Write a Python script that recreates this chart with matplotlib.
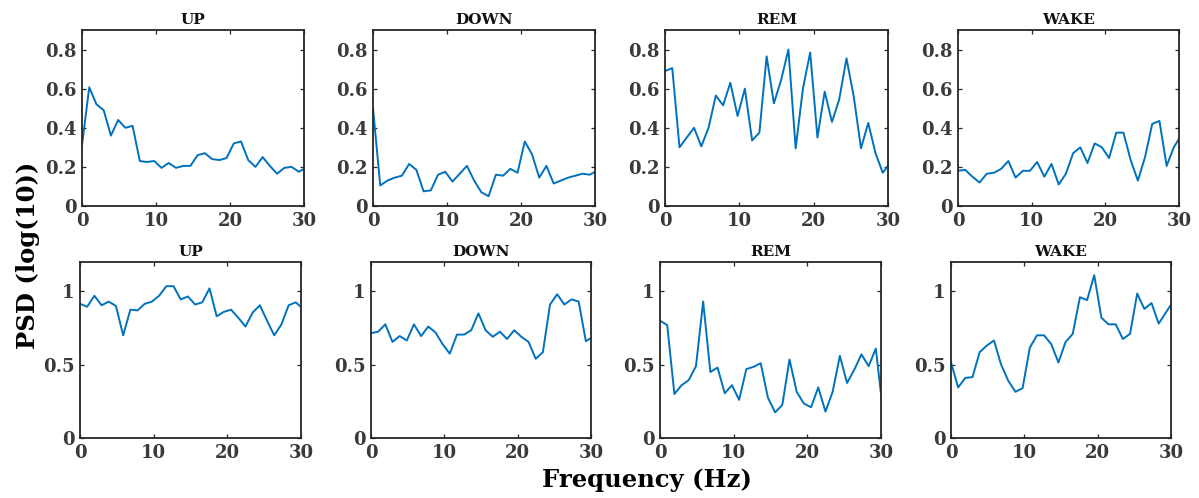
import numpy as np
import matplotlib
matplotlib.use("Agg")
import matplotlib.pyplot as plt

# frequency bins (~0.977 Hz spacing), clipped at 30 Hz by the axis limit
freq = np.arange(32) * 1000.0 / 1024.0

stages = ["UP", "DOWN", "REM", "WAKE"]

# top row
up_top = [0.31, 0.607, 0.52, 0.49, 0.36, 0.44, 0.40, 0.41, 0.23, 0.225, 0.23, 0.195,
          0.22, 0.195, 0.205, 0.205, 0.26, 0.27, 0.24, 0.235, 0.245, 0.32, 0.33, 0.235,
          0.20, 0.25, 0.205, 0.165, 0.195, 0.20, 0.175, 0.195]
down_top = [0.50, 0.105, 0.13, 0.145, 0.155, 0.215, 0.185, 0.075, 0.08, 0.16, 0.175, 0.125,
            0.165, 0.205, 0.13, 0.07, 0.05, 0.16, 0.155, 0.19, 0.17, 0.33, 0.265, 0.145,
            0.205, 0.115, 0.13, 0.145, 0.155, 0.165, 0.16, 0.18]
rem_top = [0.69, 0.705, 0.30, 0.35, 0.40, 0.305, 0.40, 0.565, 0.515, 0.63, 0.46, 0.60,
           0.335, 0.375, 0.765, 0.525, 0.645, 0.80, 0.295, 0.60, 0.785, 0.35, 0.585, 0.43,
           0.545, 0.755, 0.56, 0.295, 0.425, 0.27, 0.17, 0.22]
wake_top = [0.18, 0.185, 0.15, 0.12, 0.165, 0.17, 0.19, 0.23, 0.145, 0.18, 0.18, 0.225,
            0.15, 0.215, 0.11, 0.165, 0.27, 0.30, 0.22, 0.32, 0.30, 0.245, 0.375, 0.375,
            0.235, 0.13, 0.25, 0.42, 0.435, 0.205, 0.30, 0.36]

# bottom row
up_bot = [0.915, 0.895, 0.97, 0.905, 0.93, 0.90, 0.70, 0.875, 0.87, 0.915, 0.93, 0.97,
          1.035, 1.035, 0.945, 0.965, 0.91, 0.925, 1.02, 0.83, 0.86, 0.875, 0.82, 0.76,
          0.855, 0.905, 0.80, 0.70, 0.775, 0.905, 0.925, 0.88]
down_bot = [0.715, 0.725, 0.775, 0.655, 0.695, 0.665, 0.775, 0.695, 0.76, 0.72, 0.64, 0.575,
            0.705, 0.705, 0.735, 0.85, 0.735, 0.69, 0.725, 0.675, 0.735, 0.69, 0.655, 0.54,
            0.585, 0.91, 0.98, 0.91, 0.945, 0.93, 0.66, 0.69]
rem_bot = [0.80, 0.77, 0.30, 0.36, 0.395, 0.49, 0.93, 0.45, 0.48, 0.305, 0.36, 0.26,
           0.47, 0.485, 0.51, 0.275, 0.175, 0.225, 0.535, 0.315, 0.235, 0.21, 0.345, 0.18,
           0.315, 0.56, 0.375, 0.465, 0.57, 0.49, 0.61, 0.18]
wake_bot = [0.515, 0.345, 0.41, 0.415, 0.585, 0.63, 0.665, 0.50, 0.39, 0.315, 0.34, 0.615,
            0.70, 0.70, 0.64, 0.515, 0.655, 0.71, 0.96, 0.94, 1.11, 0.82, 0.775, 0.775,
            0.675, 0.71, 0.985, 0.88, 0.92, 0.78, 0.855, 0.93]

top_series = [up_top, down_top, rem_top, wake_top]
bot_series = [up_bot, down_bot, rem_bot, wake_bot]

line_color = "#0072BD"
axis_color = "#262626"
tick_text = "#3a3a3a"

plt.rcParams["font.family"] = "DejaVu Serif"
plt.rcParams["font.weight"] = "bold"

W, H = 1199, 498
fig = plt.figure(figsize=(W / 100, H / 100), dpi=100)

# axes boxes in pixels: (left, right) for each panel, per row
top_lr = [(82, 304), (373, 595), (665, 888), (958, 1179)]
bot_lr = [(80, 301), (371, 591), (660, 881), (951, 1171)]
top_tb = (30, 206)
bot_tb = (262, 438)


def style_axes(ax, title, ylim, yticks, ylabels):
    ax.set_xlim(0, 30)
    ax.set_ylim(*ylim)
    ax.set_xticks([0, 10, 20, 30])
    ax.set_yticks(yticks)
    ax.set_yticklabels(ylabels)
    ax.tick_params(direction="in", top=True, right=True, length=3, width=0.9,
                   colors=axis_color, labelcolor=tick_text, labelsize=13, pad=4)
    for lab in ax.get_xticklabels() + ax.get_yticklabels():
        lab.set_fontweight("bold")
    for sp in ax.spines.values():
        sp.set_color(axis_color)
        sp.set_linewidth(1.3)
    ax.set_title(title, fontsize=11, fontweight="bold", pad=4, color="#111111")


for row, (series, lr, tb) in enumerate([(top_series, top_lr, top_tb),
                                        (bot_series, bot_lr, bot_tb)]):
    for i, (stage, vals) in enumerate(zip(stages, series)):
        l, r = lr[i]
        t, b = tb
        ax = fig.add_axes([l / W, (H - b) / H, (r - l) / W, (b - t) / H])
        ax.plot(freq, vals, color=line_color, linewidth=1.4)
        if row == 0:
            style_axes(ax, stage, (0, 0.9), [0, 0.2, 0.4, 0.6, 0.8],
                       ["0", "0.2", "0.4", "0.6", "0.8"])
        else:
            style_axes(ax, stage, (0, 1.2), [0, 0.5, 1], ["0", "0.5", "1"])

fig.text(28 / W, (H - 255) / H, "PSD (log(10))", rotation=90, ha="center", va="center",
         fontsize=17.5, fontweight="bold", color="black")
fig.text(647 / W, (H - 480) / H, "Frequency (Hz)", ha="center", va="center",
         fontsize=17.5, fontweight="bold", color="black")

fig.savefig("out.png", dpi=100)
